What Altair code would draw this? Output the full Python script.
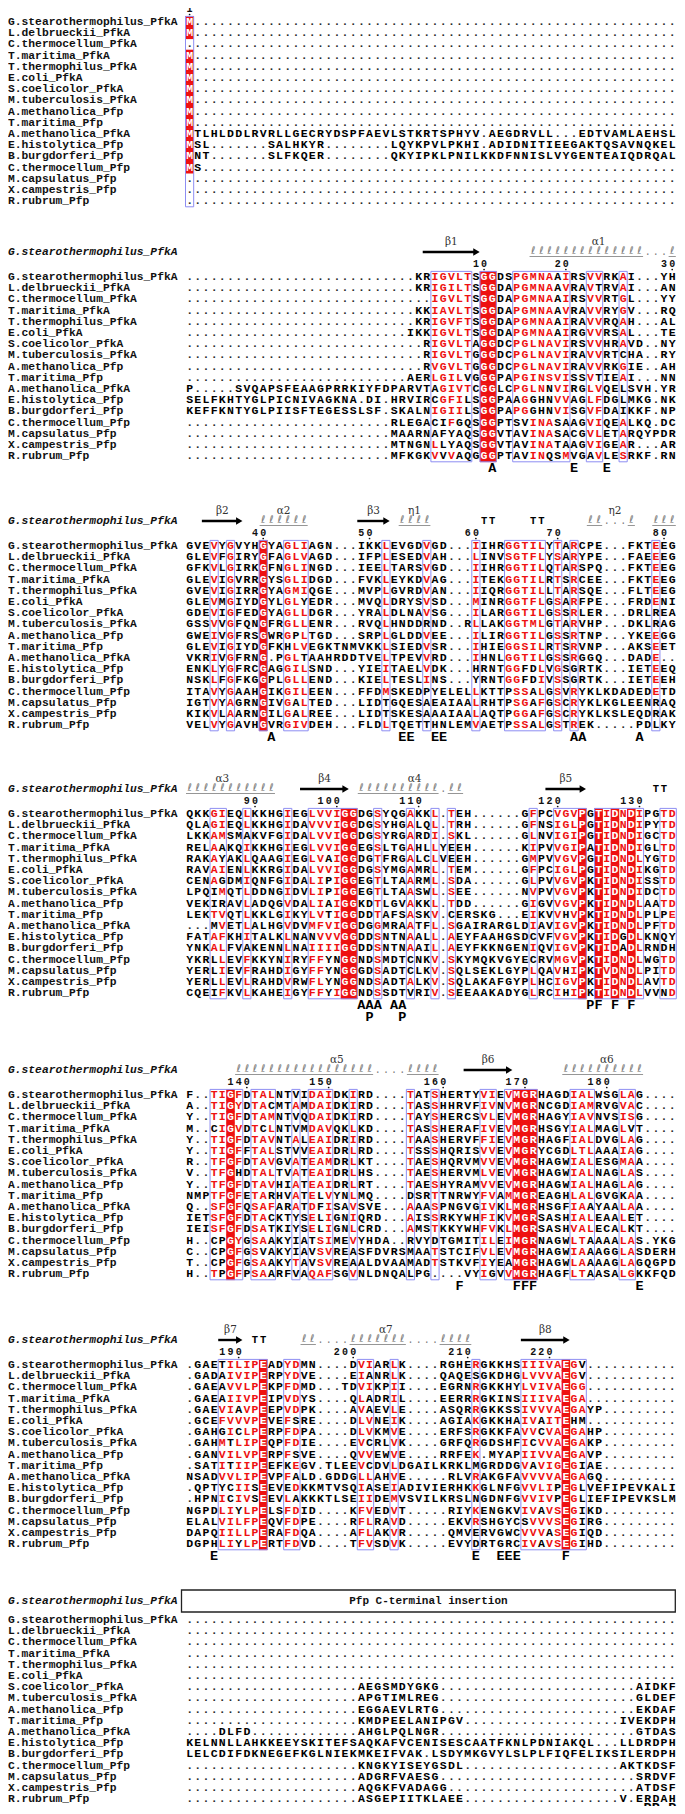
import altair as alt
import pandas as pd
from collections import Counter

# ---------------- data ----------------
NAMES = ["G.stearothermophilus_PfkA", "L.delbrueckii_PfkA", "C.thermocellum_PfkA",
         "T.maritima_PfkA", "T.thermophilus_PfkA", "E.coli_PfkA", "S.coelicolor_PfkA",
         "M.tuberculosis_PfkA", "A.methanolica_Pfp", "T.maritima_Pfp", "A.methanolica_PfkA",
         "E.histolytica_Pfp", "B.burgdorferi_Pfp", "C.thermocellum_Pfp", "M.capsulatus_Pfp",
         "X.campestris_Pfp", "R.rubrum_Pfp"]

BLOCK1 = ["M" + "." * 59, "M" + "." * 59, "." * 60, "M" + "." * 59, "M" + "." * 59,
          "M" + "." * 59, "M" + "." * 59, "M" + "." * 59, "M" + "." * 59, "M" + "." * 59,
          "MTLHLDDLRVRLLGECRYDSPFAEVLSTKRTSPHYV.AEGDRVLL...EDTVAMLAEHSL",
          "MSL.......SALHKYR........LQYKPVLPKHI.ADIDNITIEEGAKTQSAVNQKEL",
          "MNT.......SLFKQER........QKYIPKLPNILKKDFNNISLVYGENTEAIQDRQAL",
          "MS" + "." * 58, "." * 60, "." * 60, "." * 60]

BLOCK2 = ["." * 28 + "KRIGVLTSGGDSPGMNAAIRSVVRKAI...YH",
          "." * 28 + "KRIGILTSGGDAPGMNAAVRAVTRVAI...AN",
          "." * 30 + "IGVLTSGGDAPGMNAAIRSVVRTGL...YY",
          "." * 28 + "KKIAVLTSGGDAPGMNAAVRAVVRYGV...RQ",
          "." * 28 + "KRIGVFTSGGDAPGMNAAIRAVVRQAH...AL",
          "." * 27 + "IKKIGVLTSGGDAPGMNAAIRGVVRSAL...TE",
          "." * 29 + "RIGVLTAGGDCPGLNAVIRSVVHRAVD..NY",
          "." * 29 + "RIGVLTGGGDCPGLNAVIRAVVRTCHA..RY",
          "." * 29 + "RVGVLTGGGDCPGLNAVIRAVVRKGIE..AH",
          "." * 27 + "AERLGILVGGGPAPGINSVISSVTIEAI...NN",
          "P.....SVQAPSFEAAGPRRKIYFDPARVTAGIVTCGGLCPGLNNVIRGLVQELSVH.YR",
          "SELFKHTYGLPICNIVAGKNA.DI.HRVIRCGFILSGGPAAGGHNVVAGLFDGLMKG.NK",
          "KEFFKNTYGLPIISFTEGESSLSF.SKALNIGIILSGGPAPGGHNVISGVFDAIKKF.NP",
          "." * 25 + "RLEGACIFGQSGGPTSVINASAAGVIQEALKQ.DC",
          "." * 25 + "MAARNAFYAQSGGVTAVINASACGVLETARQYPDR",
          "." * 25 + "MTNGNLLYAQSGGVTAVINATAAGVIGEAR...AR",
          "." * 25 + "MFKGKVVVAQGGGPTAVINQSMVGAVLESRKF.RN"]

BLOCK3 = ["GVEVYGVYHGYAGLIAGN...IKKLEVGDVGD...IIHRGGTILYTARCPE...FKTEEG",
          "GLEVFGIRYGFAGLVAGD...IFPLESEDVAH...LINVSGTFLYSARYPE...FAEEEG",
          "GFKVLGIRKGFNGLINGD...IEELTARSVGD...IIHRGGTILQTARSPQ...FKTEEG",
          "GLEVIGVRRGYSGLIDGD...FVKLEYKDVAG...ITEKGGTILRTSRCEE...FKTEEG",
          "GVEVIGIRRGYAGMIQGE...MVPLGVRDVAN...IIQRGGTILLTARSQE...FLTEEG",
          "GLEVMGIYDGYLGLYEDR...MVQLDRYSVSD...MINRGGTFLGSARFPE...FRDENI",
          "GDEVIGFEDGYAGLLDGR...YRALDLNAVSG...ILARGGTILGSSRLER...DRLREA",
          "GSSVVGFQNGFRGLLENR...RVQLHNDDRND..RLLAKGGTMLGTARVHP...DKLRAG",
          "GWEIVGFRSGWRGPLTGD...SRPLGLDDVEE...ILIRGGTILGSSRTNP...YKEEGG",
          "GLEVIGIYDGFKHLVEGKTNMVKKLSIEDVSR...IHIEGGSILRTSRVNP...AKSEET",
          "VKRIVGFRNG.PGLTAAHRDDTVELTPEVVRD...IHNLGGTILGSSRGGQ...DADE..",
          "ENKLYGFRCGAGGILSND...YIEITAELVDK...HRNTGGFDLVGSGRTK...IETEEQ",
          "NSKLFGFKGGPLGLLEND...KIELTESLINS...YRNTGGFDIVSSGRTK...IETEEH",
          "ITAVYGAAHGIKGILEEN...FFDMSKEDPYELELLKTTPSSALGSVRYKLKDADEDETD",
          "IGTVYAGRNGIVGALTED...LIDTGQESAEAIAALRHTPSGAFGSCRYKLKGLEENRAQ",
          "KIKVLAARNGILGALREE...LIDTSKESAAAIAALAQTPGGAFGSCRYKLKSLEQDRAK",
          "VELVYGAVHGVRGIVDEH...FLDLTQETTHNLEMVAETPSSALGSTREK.....PDLKY"]

BLOCK4 = ["QKKGIEQLKKHGIEGLVVIGGDGSYQGAKKL.TEH......GFPCVGVPGTIDNDIPGTD",
          "QLAGIEQLKKHGIDAVVVIGGDGSYHGALQL.TRH......GFNSIGLPGTIDNDIPYTD",
          "LKKAMSMAKVFGIDALVVIGGDGSYRGARDI.SKL......GLNVIGIPGTIDNDIGCTD",
          "RELAAKQIKKHGIEGLVVIGGEGSLTGAHLLYEEH......KIPVVGIPATIDNDIGLTD",
          "RAKAYAKLQAAGIEGLVAIGGDGTFRGALCLVEEH......GMPVVGVPGTIDNDLYGTD",
          "RAVAIENLKKRGIDALVVIGGDGSYMGAMRL.TEM......GFPCIGLPGTIDNDIKGTD",
          "CENAGDMIQNFGIDALIPIGGEGTLTAARML.SDA......GLPVVGVPKTIDNDISSTD",
          "LPQIMQTLDDNGIDVLIPIGGEGTLTAASWL.SEE......NVPVVGVPKTIDNDIDCTD",
          "VEKIRAVLADQGVDALIAIGGKDTLGVAKKL.TDD......GIGVVGVPKTIDNDLAATD",
          "LEKTVQTLKKLGIKYLVTIGGDDTAFSASKV.CERSKG...EIKVVHVPKTIDNDLPLPE",
          "...MVETLALHGVDVMFVIGGDGGMRAATFL.SGAIRARGLDIAVIGVPKTIDNDLPFTD",
          "FATAFKHITALKLNANVVVGGDDSNTNAALL.AEYFAAHGSDCVFVGVPKTIDGDLKNQY",
          "YNKALFVAKENNLNAIIIIGGDDSNTNAAIL.AEYFKKNGENIQVIGVPKTIDADLRNDH",
          "YKRLLEVFKKYNIRYFFYNGGNDSMDTCNKV.SKYMQKVGYECRVMGVPKTIDNDLWGTD",
          "YERLIEVFRAHDIGYFFYNGGGDSADTCLKV.SQLSEKLGYPLQAVHIPKTVDNDLPITD",
          "YERLLEVLRAHDVRWFLYNGGNDSADTALKV.SQLAKAFGYPLHCIGVPKTIDNDLAVTD",
          "CQEIFKVLKAHEIGYFFYIGGNDSSDTVRIV.SEEAAKADYGLRCIHIPKTIDNDLVVND"]

BLOCK5 = ["F..TIGFDTALNTVIDAIDKIRD....TATSHERTYVIEVMGRHAGDIALWSGLAG....",
          "A..TIGYDTACMTAMDAIDKIRD....TASSHHRVFIVNVMGRNCGDIAMRVGVAC....",
          "Y..TIGFDTAMNTVQDAIDKIRD....TAYSHERCSVLEVMGRHAGYIAVNVSISG....",
          "M..CIGVDTCLNTVMDAVQKLKD....TASSHERAFIVEVMGRHSGYIALMAGLVT....",
          "Y..TIGFDTAVNTALEAIDRIRD....TAASHERVFFIEVMGRHAGFIALDVGLAG....",
          "Y..TIGFFTALSTVVEAIDRLRD....TSSSHQRISVVEVMGRYCGDLTLAAAIAG....",
          "R..TFGFDTAVGVATEAMDRLKT....TAESHQRVMVVEVMGRHAGWIALESGMAA....",
          "V..TFGHDTALTVATEAIDRLHS....TAESHERVMLVEVMGRHAGWIALNAGLAS....",
          "Y..TFGFDTAVHIATEAIDRLRT....TAESHYRAMVVEVMGRHAGWIALHAGLAG....",
          "NMPTFGFETARHVATELVYNLMQ....DSRTTNRWYFVAMMGREAGHLALGVGKAA....",
          "Q..SFGFQSAFARATDFISAVSVE...AAASPNGVGIVKLMGRHSGFIAAYAALAA....",
          "IETSFGFDTACKTYSELIGNIQRD...AISSRKYWHFIKVMGRSASHIALEAALET....",
          "IEISFGFDSATKIYSELIGNLCRD...AMSTKKYWHFVKLMGRSASHVALECALKT....",
          "H..CPGYGSAAKYIATSIMEVYHDA..RVYDTGMITILEIMGRNAGWLTAAAALAS.YKG",
          "C..CPGFGSVAKYIAVSVREASFDVRSMAATSTCIFVLEVMGRHAGWIAAAGGLASDERH",
          "T..CPGFGSAAKYTAVSVREAALDVAAMADTSTKVFIYEAMGRHAGWLAAAAGLAGQGPD",
          "H..TPGFPSAARFVAQAFSGVNLDNQALPG....VYIGVVMGRHAGFLTAASALGKKFQD"]

BLOCK6 = [".GAETILIPEADYDMN....DVIARLK....RGHERGKKHSIIIVAEGV",
          ".GADAIVIPERPYDVE....EIANRLK....QAQESGKDHGLVVVAEGV",
          ".GAEAVVLPEKPFDMD...TDVIKPII....EGRNRGKKHYLVIVAEGG",
          ".GAEAIIVPEIPVDYS....QLADRIL....EERRRGKINSIIIVAEGA",
          ".GAEVIAVPEEPVDPK....AVAEVLE....ASQRRGKKSSIVVVAEGAYP",
          ".GCEFVVVPEVEFSRE....DLVNEIK....AGIAKGKKHAIVAITEHM",
          ".GAHGICLPERPFDPA....DLVKMVE....ERFSRGKKFAVVCVAEGAHP",
          ".GAHMTLIPEQPFDIE....EVCRLVK....GRFQRGDSHFICVVAEGAKP",
          ".GANVILVPERPFSVE....QVVEWVE....RRFEK.MYAPIIVVAEGAVP",
          ".SATITIIPEEFKEGV.TLEEVCDVLDGAILKRKLMGRDDGVAVIGEGIAE",
          "NSADVVLIPEVPFALD.GDDGLLAHVE.....RLVRAKGFAVVVVAEGAGQ",
          ".QPTYCIISEEVEDKKMTVSQIASEIADIVIERHKKGLNFGVVLIPEGLVEFIPEVKALI",
          ".HPNICIVSEEVLAKKKTLSEIIDEMVSVILKRSLNGDNFGVVIVPEGLIEFIPEVKSLM",
          "NGPDLIYLPELSFDID....KFVEDVT.....RIYKENGKVIVAVSEGIKD",
          "ELALVILFPEQVFDPE....RFLRAVD.....EKVRSHGYCSVVVSEGIRG",
          "DAPQIILLPERAFDQA....AFLAKVR.....QMVERVGWCVVVASEGIQD",
          "DGPHLIYLPERTFDVD....TFVSDVK.....EVYDRTGRCIVAVSEGIHD"]

BLOCK7 = ["." * 60, "." * 60, "." * 60, "." * 60, "." * 60, "." * 60,
          "." * 21 + "AEGSMDYGKG" + "." * 24 + "AIDKF",
          "." * 21 + "APGTIMLREG" + "." * 24 + "GLDEF",
          "." * 21 + "EGGAEVLRTG" + "." * 24 + "EKDAF",
          "." * 21 + "KMDPEELANIPGV" + "." * 19 + "IVEKDPH",
          "...." + "DLFD" + "." * 13 + "AHGLPQLNGR" + "." * 24 + "GTDAS",
          "KELNNLLAHKKEEYSKITEFSAQKAFVCENISESCAATFKNLPDNIAKQL...LLDRDPH",
          "LELCDIFDKNEGEFKGLNIEKMKEIFVAK.LSDYMKGVYLSLPLFIQFELIKSILERDPH",
          "." * 21 + "KNGKYISEYGSDL" + "." * 19 + "AKTKDSF",
          "." * 21 + "ADGRFVAESG" + "." * 24 + "SRDVF",
          "." * 21 + "AQGKFVADAGG" + "." * 23 + "ATDSF",
          "." * 21 + "ASGEPIITKLAEE" + "." * 19 + "V.ERDAH"]

SEQ_BLOCKS = [BLOCK1, BLOCK2, BLOCK3, BLOCK4, BLOCK5, BLOCK6, BLOCK7]

# framed (similarity) column ranges and strictly conserved columns, per block
FRAMES = [
    [(1, 1)],
    [(31, 35), (37, 38), (41, 47), (50, 51), (54, 54)],
    [(4, 4), (6, 6), (10, 10), (13, 15), (25, 25), (30, 30), (36, 36), (40, 44), (46, 46), (48, 48), (58, 58)],
    [(4, 5), (8, 8), (13, 13), (16, 21), (24, 24), (28, 28), (31, 31), (33, 33), (43, 43), (46, 49), (51, 56), (59, 60)],
    [(4, 7), (9, 11), (14, 14), (16, 18), (21, 21), (28, 28), (31, 31), (37, 38), (40, 43), (48, 50), (54, 55)],
    [(5, 10), (13, 14), (22, 23), (26, 26), (36, 36), (42, 49)],
    [],
]
CONSERVED = [[1], [37, 38], [10], [20, 21, 49, 51, 53, 55], [6, 41, 42, 43], [10, 47], []]

# secondary structure of the reference sequence (column ranges)
ARROWS = [[], [(30, 36)], [(3, 7), (22, 25)], [(15, 20), (45, 49)], [(35, 40)], [(5, 7), (42, 47)], []]
HELICES = [[], [(43, 56), (60, 60)], [(10, 15), (27, 30), (50, 51), (55, 55), (58, 60)],
           [(1, 11), (22, 31), (33, 34)], [(7, 23), (28, 31), (47, 56)], [(15, 16), (21, 27), (32, 35)], []]
HELIX_GAPS = [[], [(57, 59)], [(52, 54)], [(32, 32)], [(24, 27)], [(17, 20), (28, 31)], []]
TURNS = [[], [], [(37, 38), (43, 44)], [(58, 59)], [], [(9, 10)], []]
SS_LABELS = [[], [("β1", 33), ("α1", 51)],
             [("β2", 5), ("α2", 12.5), ("β3", 23.5), ("η1", 28.5), ("η2", 53)],
             [("α3", 5), ("β4", 17.5), ("α4", 28.5), ("β5", 47)],
             [("α5", 19), ("β6", 37.5), ("α6", 52)],
             [("β7", 6), ("α7", 25), ("β8", 44.5)], []]

# annotation letters under the blocks: (column, letter, line)
MARKS = [[],
         [(38, "A", 1), (48, "E", 1), (52, "E", 1)],
         [(11, "A", 1), (27, "E", 1), (28, "E", 1), (31, "E", 1), (32, "E", 1),
          (48, "A", 1), (49, "A", 1), (56, "A", 1)],
         [(22, "A", 1), (23, "A", 1), (24, "A", 1), (26, "A", 1), (27, "A", 1),
          (23, "P", 2), (27, "P", 2), (50, "P", 1), (51, "F", 1), (53, "F", 1), (55, "F", 1)],
         [(34, "F", 1), (41, "F", 1), (42, "F", 1), (43, "F", 1), (56, "E", 1)],
         [(4, "E", 1), (36, "E", 1), (39, "E", 1), (40, "E", 1), (41, "E", 1), (47, "F", 1)],
         [(57, "P", 1), (58, "P", 1), (60, "P", 1)]]

INSERTION_LABEL = "Pfp C-terminal insertion"
INSERTION_SPAN = (1, 60)

# ---------------- layout ----------------
W, H = 669, 1798
X0, PITCH = 185.5, 8.18
ROW1 = [22, 277, 546, 814, 1095, 1365, 1620]
ROWH = 11.2
RED = "#ee1111"
FRAMEC = "#8e8ef2"
MONO = "Liberation Mono"
SIM = ["ILVMF", "FYW", "KRH", "DENQ", "STAG"]


def cx(c):
    return X0 + (c - 0.5) * PITCH


def ry(b, r):
    return ROW1[b] + r * ROWH


def similar(a, m):
    return a == m or any(a in s and m in s for s in SIM)


seq_rows, fill_rows, frame_rows, name_rows = [], [], [], []
for b, blk in enumerate(SEQ_BLOCKS):
    blk = [(s + "." * 60)[:60] for s in blk]
    framed = set()
    for s, e in FRAMES[b]:
        framed.update(range(s, e + 1))
        frame_rows.append(dict(x=cx(s) - PITCH / 2, x2=cx(e) + PITCH / 2,
                               y=ry(b, 0) - ROWH / 2, y2=ry(b, 16) + ROWH / 2))
    for r, nm in enumerate(NAMES):
        name_rows.append(dict(x=8, y=ry(b, r), t=nm))
    for c in range(1, 61):
        col = [row[c - 1] for row in blk]
        res = [ch for ch in col if ch != "."]
        m = Counter(res).most_common(1)[0][0] if res else None
        for r, ch in enumerate(col):
            if ch == ".":
                color = "#2a2a2a"
            elif c in CONSERVED[b] and ch == m:
                color = "white"
                fill_rows.append(dict(x=cx(c) - PITCH / 2 - 0.2, x2=cx(c) + PITCH / 2 + 0.2,
                                      y=ry(b, r) - ROWH / 2 - 0.3, y2=ry(b, r) + ROWH / 2 + 0.3))
            elif c in framed and similar(ch, m):
                color = RED
            else:
                color = "black"
            seq_rows.append(dict(x=cx(c), y=ry(b, r), t=ch, c=color))

# numbering of the reference sequence
num_rows, tick_rows = [], []
n = 0
for b, blk in enumerate(SEQ_BLOCKS):
    ref = (blk[0] + "." * 60)[:60]
    for c, ch in enumerate(ref, start=1):
        if ch != ".":
            n += 1
            if n == 1 or n % 10 == 0:
                s = str(n)
                for i, d in enumerate(s):
                    num_rows.append(dict(x=cx(c - (len(s) - 1 - i)), y=ROW1[b] - 13.5, t=d))
                tick_rows.append(dict(x=cx(c), y=ROW1[b] - 7.5))

# secondary structure
arrow_rows, head_rows, helix_rows, uline_rows, hgap_rows, turn_rows, lab_rows, ref_rows = [], [], [], [], [], [], [], []
for b in range(len(SEQ_BLOCKS)):
    gy = ROW1[b] - 25
    if 0 < b < 6:
        ref_rows.append(dict(x=8, y=gy, t=NAMES[0]))
    for s, e in ARROWS[b]:
        arrow_rows.append(dict(x=cx(s) - PITCH / 2, x2=cx(e) + PITCH / 2 - 6, y=gy))
        head_rows.append(dict(x=cx(e) + PITCH / 2 - 3.5, y=gy))
    for s, e in HELICES[b]:
        for c in range(s, e + 1):
            helix_rows.append(dict(x=cx(c), y=gy - 1, t="ℓ"))
        uline_rows.append(dict(x=cx(s) - PITCH / 2 + 0.5, x2=cx(e) + PITCH / 2 - 0.5, y=gy + 4.5))
    for s, e in HELIX_GAPS[b]:
        for c in range(s, e + 1):
            hgap_rows.append(dict(x=cx(c), y=gy, t="."))
    for s, e in TURNS[b]:
        for c in range(s, e + 1):
            turn_rows.append(dict(x=cx(c), y=gy, t="T"))
    for t, c in SS_LABELS[b]:
        lab_rows.append(dict(x=cx(c), y=gy - 10, t=t))

# annotation letters
mark_rows = []
for b, lst in enumerate(MARKS):
    last = ry(b, 16)
    for c, t, line in lst:
        off = 9 if b == 6 else 12
        mark_rows.append(dict(x=cx(c), y=last + off + (line - 1) * 12, t=t))

# insertion box (block 7 header)
box_y = ROW1[6] - 19
box_rows = [dict(x=cx(INSERTION_SPAN[0]) - PITCH / 2 - 4, x2=cx(INSERTION_SPAN[1]) + PITCH / 2 - 1,
                 y=box_y - 11, y2=box_y + 11)]
box_text = [dict(x=(box_rows[0]["x"] + box_rows[0]["x2"]) / 2, y=box_y, t=INSERTION_LABEL)]
ref_rows.append(dict(x=8, y=box_y, t=NAMES[0]))

# ---------------- chart ----------------
XS = alt.Scale(domain=[8, 8 + W], nice=False, zero=False)
YS = alt.Scale(domain=[8, 8 + H], nice=False, zero=False, reverse=True)


def X(f="x"):
    return alt.X(f + ":Q", scale=XS, axis=None)


def Y(f="y"):
    return alt.Y(f + ":Q", scale=YS, axis=None)


def text_layer(rows, **kw):
    base = dict(baseline="middle", align="center")
    base.update(kw)
    return alt.Chart(pd.DataFrame(rows)).mark_text(**base).encode(x=X(), y=Y(), text="t:N")


layers = [
    alt.Chart(pd.DataFrame(fill_rows)).mark_rect(color=RED, opacity=1).encode(
        x=X(), x2="x2:Q", y=Y(), y2="y2:Q"),
    alt.Chart(pd.DataFrame(frame_rows)).mark_rect(filled=False, stroke=FRAMEC, strokeWidth=1).encode(
        x=X(), x2="x2:Q", y=Y(), y2="y2:Q"),
    alt.Chart(pd.DataFrame(seq_rows)).mark_text(
        font=MONO, fontSize=11.5, fontWeight="bold", baseline="middle", align="center").encode(
        x=X(), y=Y(), text="t:N", color=alt.Color("c:N", scale=None)),
    text_layer(name_rows, align="left", font=MONO, fontSize=11.3, fontWeight="bold", color="#111"),
    text_layer(ref_rows, align="left", font=MONO, fontSize=11.3, fontWeight="bold",
               fontStyle="italic", color="#111"),
    text_layer(num_rows, font=MONO, fontSize=10, fontWeight="bold", color="#111"),
    alt.Chart(pd.DataFrame(tick_rows)).mark_circle(size=3, color="#111", opacity=1).encode(x=X(), y=Y()),
    alt.Chart(pd.DataFrame(arrow_rows)).mark_rule(strokeWidth=2.4, color="black").encode(
        x=X(), x2="x2:Q", y=Y()),
    alt.Chart(pd.DataFrame(head_rows)).mark_point(shape="triangle-right", filled=True, size=55,
                                                  color="black", opacity=1).encode(x=X(), y=Y()),
    text_layer(helix_rows, font="DejaVu Sans", fontSize=10.5, color="#7a7a7a"),
    alt.Chart(pd.DataFrame(uline_rows)).mark_rule(strokeWidth=0.9, color="#8a8a8a").encode(
        x=X(), x2="x2:Q", y=Y()),
    text_layer(hgap_rows, font=MONO, fontSize=10, color="#7a7a7a"),
    text_layer(turn_rows, font=MONO, fontSize=10.5, fontWeight="bold", color="black"),
    text_layer(lab_rows, font="DejaVu Serif", fontSize=10.5, color="#333"),
    text_layer(mark_rows, font=MONO, fontSize=13.5, fontWeight="bold", color="black"),
    alt.Chart(pd.DataFrame(box_rows)).mark_rect(fill="white", stroke="#222", strokeWidth=1.3).encode(
        x=X(), x2="x2:Q", y=Y(), y2="y2:Q"),
    text_layer(box_text, font=MONO, fontSize=11, fontWeight="bold", color="#111"),
]

chart = alt.layer(*layers).properties(
    width=W, height=H, padding=0, autosize=alt.AutoSizeParams(type="none")
).configure_view(stroke=None)

chart.save("out.html", embed_options={"renderer": "svg", "actions": False})
